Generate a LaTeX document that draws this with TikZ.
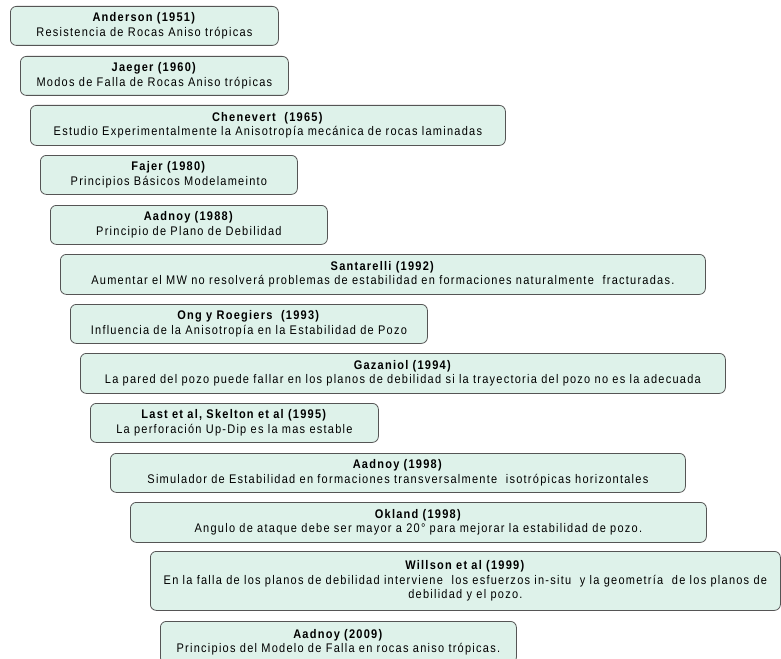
\documentclass[tikz,border=0pt]{standalone}
\usepackage{fontspec}
\setmainfont{Liberation Sans}[FakeStretch=0.88, LetterSpace=10]
\definecolor{boxfill}{RGB}{222,242,234}
\definecolor{boxline}{RGB}{85,85,85}
\tikzset{
  tbox/.style={draw=boxline, line width=0.8pt, fill=boxfill, rounded corners=6pt,
    anchor=north west, align=center, inner sep=1pt,
    font=\fontsize{12.5}{14.5}\selectfont},
}
\newcommand{\tl}[1]{\textbf{#1}}
\begin{document}
\begin{tikzpicture}[x=1pt,y=-1pt]
\clip (0,0) rectangle (781,658);
\fill[white] (0,0) rectangle (781,658);
\node[tbox, minimum width=268pt, minimum height=39pt] (n1) at (10,6) {\tl{Anderson (1951)}\\Resistencia de Rocas Aniso trópicas};
\node[tbox, minimum width=268pt, minimum height=39pt] (n2) at (20,56) {\tl{Jaeger (1960)}\\Modos de Falla de Rocas Aniso trópicas};
\node[tbox, minimum width=475pt, minimum height=40pt] (n3) at (30,105) {\tl{Chenevert\ \ (1965)}\\Estudio Experimentalmente la Anisotropía mecánica de rocas laminadas};
\node[tbox, minimum width=257pt, minimum height=39pt] (n4) at (40,155) {\tl{Fajer (1980)}\\Principios Básicos Modelameinto};
\node[tbox, minimum width=277pt, minimum height=39pt] (n5) at (50,205) {\tl{Aadnoy (1988)}\\Principio de Plano de Debilidad};
\node[tbox, minimum width=645pt, minimum height=40pt] (n6) at (60,254) {\tl{Santarelli (1992)}\\Aumentar el MW no resolverá problemas de estabilidad en formaciones naturalmente\ \ fracturadas.};
\node[tbox, minimum width=357pt, minimum height=39pt] (n7) at (70,304) {\tl{Ong y Roegiers\ \ (1993)}\\Influencia de la Anisotropía en la Estabilidad de Pozo};
\node[tbox, minimum width=645pt, minimum height=40pt] (n8) at (80,353) {\tl{Gazaniol (1994)}\\La pared del pozo puede fallar en los planos de debilidad si la trayectoria del pozo no es la adecuada};
\node[tbox, minimum width=288pt, minimum height=39pt] (n9) at (90,403) {\tl{Last et al, Skelton et al (1995)}\\La perforación Up-Dip es la mas estable};
\node[tbox, minimum width=575pt, minimum height=39pt] (n10) at (110,453) {\tl{Aadnoy (1998)}\\Simulador de Estabilidad en formaciones transversalmente\ \ isotrópicas horizontales};
\node[tbox, minimum width=576pt, minimum height=40pt] (n11) at (130,502) {\tl{Okland (1998)}\\Angulo de ataque debe ser mayor a 20° para mejorar la estabilidad de pozo.};
\node[tbox, minimum width=630pt, minimum height=59pt] (n12) at (150,551) {\tl{Willson et al (1999)}\\En la falla de los planos de debilidad interviene\ \ los esfuerzos in-situ\ \ y la geometría\ \ de los planos de\\debilidad y el pozo.};
\node[tbox, minimum width=356pt, minimum height=42pt] (n13) at (160,621) {\tl{Aadnoy (2009)}\\Principios del Modelo de Falla en rocas aniso trópicas.};
\end{tikzpicture}
\end{document}
